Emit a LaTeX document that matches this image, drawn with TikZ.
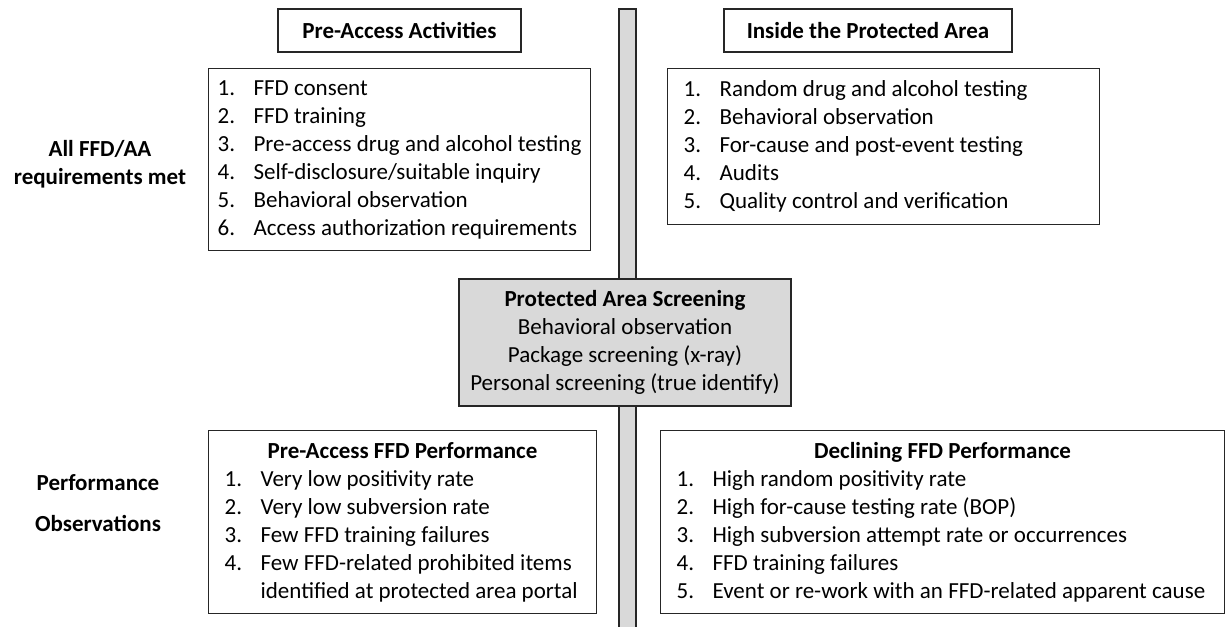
\documentclass[tikz,border=0pt]{standalone}
\usepackage{fontspec}
\setmainfont{Carlito}
\usetikzlibrary{positioning}
\newcommand{\sz}{\fontsize{23}{28}\selectfont}
\tikzstyle{head}=[draw=black!85, line width=1.2pt, fill=white, font=\sz\bfseries, minimum height=43pt, inner sep=0pt]
\tikzstyle{list}=[draw=black!85, line width=1.2pt, fill=white, align=flush left, anchor=north west, inner ysep=0pt, inner xsep=16pt]
\tikzstyle{screen}=[draw=black!85, line width=1.2pt, fill=black!15, align=flush center, minimum width=332pt, minimum height=127pt]
\tikzstyle{side}=[font=\sz\bfseries, align=flush center]
\newcommand{\itm}[2]{\makebox[36pt][l]{#1.}#2}
\newcommand{\ttl}[2]{\makebox[#1][c]{\bfseries #2}}

\begin{document}
\begin{tikzpicture}[x=1pt, y=-1pt, node distance=16pt, font=\sz]
        \useasboundingbox (0,0) rectangle (1225,626);
        % divider
        \draw[fill=black!15, draw=black!85, line width=1.2pt] (619,9) rectangle (636,640);
        %
        \node[head, minimum width=243pt] (pre) at (399.5,30.5) {Pre-Access Activities};
        \node[head, minimum width=288pt] (ins) at (868,30.5) {Inside the Protected Area};
        %
        \node[list, inner xsep=9pt, text width=364pt, minimum height=182pt] (prelist) at (208,68) {
          \itm{1}{FFD consent}\\ \itm{2}{FFD training}\\
          \itm{3}{Pre-access drug and alcohol testing}\\
          \itm{4}{Self-disclosure/suitable inquiry}\\
          \itm{5}{Behavioral observation}\\
          \itm{6}{Access authorization requirements}};
        \node[list, text width=400pt, minimum height=156pt] (inslist) at (667,68) {
          \itm{1}{Random drug and alcohol testing}\\
          \itm{2}{Behavioral observation}\\
          \itm{3}{For-cause and post-event testing}\\
          \itm{4}{Audits}\\
          \itm{5}{Quality control and verification}};
        %
        \node[screen] (pas) at (625,342.5) {\textbf{Protected Area Screening}\\
          Behavioral observation\\ Package screening (x-ray)\\
          Personal screening (true identify)};
        %
        \node[list, text width=356pt, minimum height=183pt] (preperf) at (208,430) {
          \ttl{356pt}{Pre-Access FFD Performance}\\
          \itm{1}{Very low positivity rate}\\
          \itm{2}{Very low subversion rate}\\
          \itm{3}{Few FFD training failures}\\
          \itm{4}{Few FFD-related prohibited items}\\
          \hspace*{36pt}identified at protected area portal};
        \node[list, text width=532pt, minimum height=183pt] (decl) at (660,430) {
          \ttl{532pt}{Declining FFD Performance}\\
          \itm{1}{High random positivity rate}\\
          \itm{2}{High for-cause testing rate (BOP)}\\
          \itm{3}{High subversion attempt rate or occurrences}\\
          \itm{4}{FFD training failures}\\
          \itm{5}{Event or re-work with an FFD-related apparent cause}};
        %
        \node[side] (met) at (100,164) {All FFD/AA\\ requirements met};
        \node[side] (obs) at (98,503.5) {Performance\\[13pt] Observations};
\end{tikzpicture}
\end{document}
